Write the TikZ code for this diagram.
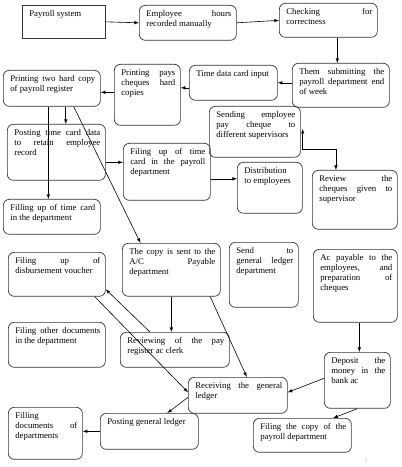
\documentclass[tikz,border=0pt]{standalone}
\usepackage{fontspec}
\setmainfont{Liberation Serif}
\usepackage{tikz}
\usetikzlibrary{arrows}
\usetikzlibrary{calc}

\tikzset{stepbox/.style = {draw=black!80, line width=0.7pt, rounded corners=6pt,
                           anchor=north west, inner xsep=0pt, inner ysep=5pt},
         flow/.style = {-latex, line width=0.6pt},
         flowboth/.style = {latex-latex, line width=0.6pt},
         pagenum/.style = {text=black!35, font=\fontsize{5}{6}\selectfont, inner sep=0pt}}
\newcommand{\boxfont}{\fontsize{8.8}{10}\selectfont\leftskip=7bp\rightskip=5bp
  \hyphenpenalty=10000\tolerance=10000\emergencystretch=20bp}
% [options]{name}{left}{top}{width}{height}{text}
\newcommand{\procbox}[7][]{\node[stepbox,#1] (#2) at (#3,-#4)
  {\parbox[c][\dimexpr #6bp-10bp\relax][t]{#5bp}{\boxfont #7}};}

\begin{document}
\begin{tikzpicture}[x=1bp, y=1bp]
  \useasboundingbox (0,0) rectangle (401,-467);

  \procbox[sharp corners]{pay}{22}{5}{83}{33}{Payroll system}
  \procbox{emp}{139}{5}{97}{35}{Employee hours\linebreak recorded manually}
  \procbox{chk}{279}{3}{98}{34}{Checking for\linebreak correctness}
  \procbox{sub}{292}{63}{97}{44}{Them submitting the\linebreak payroll department end\linebreak of week}
  \procbox{tdc}{189}{65}{88}{35}{Time data card input}
  \procbox{pcq}{114}{64}{66}{61}{Printing pays\linebreak cheques hard\linebreak copies}
  \procbox{ptw}{3}{70}{97}{36}{Printing two hard copy\linebreak of payroll register}
  \procbox{pst}{7}{124}{98}{56}{Posting time card data\linebreak to retain employee\linebreak record}
  \procbox{ftd}{3}{199}{97}{35}{Filling up of time card\linebreak in the department}
  \procbox{ftp}{123}{143}{87}{57}{Filing up of time\linebreak card in the payroll\linebreak department}
  \procbox{dist}{237}{162}{65}{51}{Distribution\linebreak to employees}
  \procbox{send}{209}{106}{91}{51}{Sending employee\linebreak pay cheque to\linebreak different supervisors}
  \procbox{rev}{312}{170}{85}{59}{Review the\linebreak cheques given to\linebreak supervisor}
  \procbox{copy}{122}{243}{98}{53}{The copy is sent to the\linebreak A/C Payable\linebreak department}
  \procbox{sgl}{229}{242}{69}{65}{Send to\linebreak general ledger\linebreak department}
  \procbox{dsb}{8}{252}{97}{44}{Filing up of\linebreak disbursement voucher}
  \procbox{oth}{8}{322}{97}{45}{Filing other documents\linebreak in the department}
  \procbox{rpr}{120}{332}{109}{35}{Reviewing of the pay\linebreak register ac clerk}
  \procbox{acp}{313}{249}{84}{73}{Ac payable to the\linebreak employees, and\linebreak preparation of\linebreak cheques}
  \procbox{dep}{324}{352}{66}{56}{Deposit the\linebreak money in the\linebreak bank ac}
  \procbox{rgl}{188}{377}{99}{36}{Receiving the general\linebreak ledger}
  \procbox{pgl}{100}{413}{98}{36}{Posting general ledger}
  \procbox{fdd}{8}{407}{74}{52}{Filling\linebreak documents of\linebreak departments}
  \procbox{fcp}{253}{418}{98}{34}{Filing the copy of the\linebreak payroll department}

  % top row and back to the left
  \draw [flow] (pay.east) -- (emp.west);
  \draw [flow] (emp.east) -- (chk.west);
  \draw [flow] ([xshift=9]chk.south) -- ([xshift=9]chk.south |- sub.north);
  \draw [flow] (sub.west |- tdc.east) -- (tdc.east);
  \draw [flow] ([yshift=-5]tdc.west) -- ([yshift=-5]tdc.west -| pcq.east);
  \draw [flow] ([yshift=-4]ptw.east -| pcq.west) -- ([yshift=-4]ptw.east);

  % from the payroll register
  \draw [flow] ([xshift=14]ptw.south) -- ([xshift=14]ptw.south |- pst.north);
  \draw [flow] ([xshift=-3.5]ptw.south) -- ([xshift=-3.5]ptw.south |- ftd.north);
  \draw [flow] ([xshift=22]ptw.south) -- ([xshift=-31]copy.north);
  \draw [flow] ([yshift=-10]pst.east) -- ([yshift=-10]pst.east -| ftp.west);
  \draw [flow] ([yshift=-7]ftp.east) -- ([yshift=-7]ftp.east -| dist.west);

  \coordinate (sendtip) at ([xshift=2,yshift=3]send.east);
  \draw [flowboth] (sendtip) -- ++(0,-20) -| ([xshift=-19]rev.north);

  % lower part
  \draw [flow] (copy.south) -- (copy.south |- rpr.north);
  \draw [flow] ([xshift=39]copy.south) -- ([xshift=9]rgl.north);
  \draw [flow] ([xshift=-25]rpr.north) -- ([yshift=-15]dsb.east);
  \draw [flow] ([xshift=38]dsb.south) -- ([yshift=3]rgl.west);
  \draw [flow] ([yshift=-2]rgl.west) -- ([xshift=18]pgl.north);
  \draw [flow] ([xshift=4]acp.south) -- ([xshift=4]acp.south |- dep.north);
  \draw [flow] ([yshift=2]dep.west) -- ([yshift=3]rgl.east);
  \draw [flow] (dep.south) -- ([xshift=31]fcp.north);
  \draw [flow] (pgl.west) -- (pgl.west -| fdd.east);

  \node [pagenum] (pg) at (366,-462) {7};
\end{tikzpicture}
\end{document}
